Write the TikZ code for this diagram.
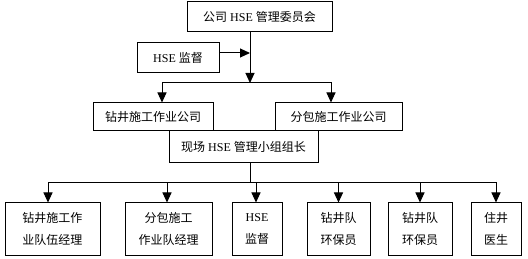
\documentclass[tikz,border=0pt]{standalone}
\usepackage{fontspec}
\setmainfont{Liberation Serif}
\newfontfamily\cjk{Noto Sans CJK SC}
\usetikzlibrary{arrows.meta}
\tikzset{
  box/.style={draw, fill=white, line width=1pt, inner sep=0pt, align=center, font=\fontsize{12}{22}\selectfont},
  link/.style={line width=1pt},
  arrow/.style={-{Triangle[length=10pt,width=9pt]}}
}

\begin{document}
\begin{tikzpicture}[x=1pt,y=-1pt]
		\useasboundingbox (0,0) rectangle (528,259);
		\coordinate (J1) at (250,83);
		\coordinate (H1) at (250,53);
		\coordinate (J2) at (250,183);
		% 上层
		\node[box, minimum width=145pt, minimum height=30pt] (cmte) at (259.5,17) {{\cjk 公司} HSE {\cjk 管理委员会}};
		\node[box, minimum width=82pt, minimum height=30pt] (sup) at (178,58) {HSE {\cjk 监督}};
		\node[box, minimum width=120pt, minimum height=28pt] (drill) at (153,117) {\cjk 钻井施工作业公司};
		\node[box, minimum width=127pt, minimum height=28pt] (sub) at (338.5,117) {\cjk 分包施工作业公司};
		\node[box, minimum width=149pt, minimum height=32pt] (lead) at (243.5,147) {{\cjk 现场} HSE {\cjk 管理小组组长}};
		% 下层
		\node[box, minimum width=95pt, minimum height=52pt] (b1) at (52.5,229) {\cjk 钻井施工作\\\cjk 业队伍经理};
		\node[box, minimum width=87pt, minimum height=52pt] (b2) at (168.5,229) {\cjk 分包施工\\\cjk 作业队经理};
		\node[box, minimum width=50pt, minimum height=52pt] (b3) at (257,229) {HSE\\\cjk 监督};
		\node[box, minimum width=63pt, minimum height=52pt] (b4) at (338.5,229) {\cjk 钻井队\\\cjk 环保员};
		\node[box, minimum width=64pt, minimum height=52pt] (b5) at (420,229) {\cjk 钻井队\\\cjk 环保员};
		\node[box, minimum width=50pt, minimum height=52pt] (b6) at (496,229) {\cjk 住井\\\cjk 医生};
		% 连线
		\draw[link, arrow] (cmte.south -| J1) -- (J1);
		\draw[link, arrow] (sup.east |- H1) -- (H1);
		\draw[link, arrow] (J1) -| ([xshift=9pt]drill.north);
		\draw[link, arrow] (J1) -| ([xshift=-7.5pt]sub.north);
		\draw[link] (lead.south -| J2) -- (J2);
		\foreach \b/\dx in {b1/-4.5, b2/-1.5, b3/-1, b4/0, b5/0, b6/0}
			\draw[link, arrow] (J2) -| ([xshift=\dx pt]\b.north);
	\end{tikzpicture}
\end{document}
